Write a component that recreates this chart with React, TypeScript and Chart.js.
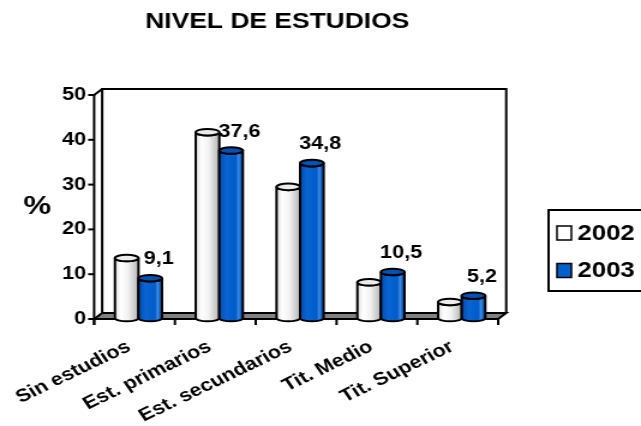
import React, { useEffect, useRef } from 'react';
import { Chart, registerables } from 'chart.js';

Chart.register(...registerables);

// ---- data ----
const TITLE = 'NIVEL DE ESTUDIOS';
const AXIS_LABEL = '%';
const categories = ['Sin estudios', 'Est. primarios', 'Est. secundarios', 'Tit. Medio', 'Tit. Superior'];
const seriesNames = ['2002', '2003'];
const values2002 = [13.6, 41.7, 29.5, 8.2, 3.8];
const values2003 = [9.1, 37.6, 34.8, 10.5, 5.2];
const yMin = 0;
const yMax = 50;
const yStep = 10;
const labelledSeries = [false, true];

// ---- layout (logical canvas, stretched horizontally to 641px) ----
const W = 534;
const H = 426;
const FONT = "'Liberation Sans', Arial, Helvetica, sans-serif";
const AREA_LEFT = 81.7;
const AREA_RIGHT = 418.3;
const AREA_TOP = 95;
const AREA_BOTTOM = 319;
const FRONT_SHIFT = 3.3;
const DEPTH_X = 6.7;
const DEPTH_Y = -6;

const styles = [
  {
    legend: '#ffffff',
    top: '#ececec',
    stops: [[0, '#dcdcdc'], [0.25, '#ffffff'], [0.55, '#f2f2f2'], [1, '#b4b4b4']] as [number, string][],
  },
  {
    legend: '#0060cc',
    top: '#0052b4',
    stops: [[0, '#004cae'], [0.3, '#0a64d2'], [0.7, '#005cc8'], [0.82, '#3f8ae2'], [0.9, '#1066cc'], [1, '#0048a4']] as [number, string][],
  },
];

function drawCylinder(ctx: CanvasRenderingContext2D, x: number, top: number, base: number, w: number, st: any) {
  const rx = w / 2;
  const ry = 3.3;
  const l = x - rx;
  const r = x + rx;
  const g = ctx.createLinearGradient(l, 0, r, 0);
  st.stops.forEach(([o, c]: [number, string]) => g.addColorStop(o, c));
  ctx.save();
  ctx.lineWidth = 2;
  ctx.strokeStyle = '#000';
  ctx.beginPath();
  ctx.moveTo(l, top);
  ctx.lineTo(l, base);
  ctx.ellipse(x, base, rx, ry, 0, Math.PI, 0, true);
  ctx.lineTo(r, top);
  ctx.ellipse(x, top, rx, ry, 0, 0, Math.PI, false);
  ctx.closePath();
  ctx.fillStyle = g;
  ctx.fill();
  ctx.stroke();
  ctx.beginPath();
  ctx.ellipse(x, top, rx, ry, 0, 0, Math.PI * 2);
  ctx.fillStyle = st.top;
  ctx.fill();
  ctx.stroke();
  ctx.restore();
}

const fmt = (v: number) => v.toFixed(1).replace('.', ',');

const chart3dPlugin = {
  id: 'chart3d',
  beforeDatasetsDraw(chart: any) {
    const ctx: CanvasRenderingContext2D = chart.ctx;
    const ca = chart.chartArea;
    const yScale = chart.scales.y;
    const fl = ca.left - FRONT_SHIFT;
    const fr = ca.right - FRONT_SHIFT;
    const ft = ca.top;
    const fb = ca.bottom;
    ctx.save();
    ctx.lineWidth = 2;
    ctx.strokeStyle = '#000';
    ctx.lineJoin = 'miter';
    // back wall
    ctx.fillStyle = '#ffffff';
    ctx.beginPath();
    ctx.rect(fl + DEPTH_X, ft + DEPTH_Y, fr - fl, fb - ft);
    ctx.fill();
    ctx.beginPath();
    ctx.moveTo(fl + DEPTH_X, fb + DEPTH_Y);
    ctx.lineTo(fl + DEPTH_X, ft + DEPTH_Y);
    ctx.lineTo(fr + DEPTH_X, ft + DEPTH_Y);
    ctx.lineTo(fr + DEPTH_X, fb + DEPTH_Y);
    ctx.stroke();
    // left side wall top edge
    ctx.beginPath();
    ctx.moveTo(fl, ft);
    ctx.lineTo(fl + DEPTH_X, ft + DEPTH_Y);
    ctx.stroke();
    // floor
    ctx.beginPath();
    ctx.moveTo(fl, fb);
    ctx.lineTo(fl + DEPTH_X, fb + DEPTH_Y);
    ctx.lineTo(fr + DEPTH_X, fb + DEPTH_Y);
    ctx.lineTo(fr, fb);
    ctx.closePath();
    ctx.fillStyle = '#808080';
    ctx.fill();
    ctx.stroke();
    // front y axis
    ctx.beginPath();
    ctx.moveTo(fl, ft);
    ctx.lineTo(fl, fb + 6);
    ctx.stroke();
    // y tick marks
    for (let v = yMin; v <= yMax; v += yStep) {
      const py = yScale.getPixelForValue(v);
      ctx.beginPath();
      ctx.moveTo(fl - 5, py);
      ctx.lineTo(fl, py);
      ctx.stroke();
    }
    // x tick marks
    const n = categories.length;
    for (let i = 0; i <= n; i++) {
      const px = fl + ((fr - fl) * i) / n;
      ctx.beginPath();
      ctx.moveTo(px, fb);
      ctx.lineTo(px, fb + 6);
      ctx.stroke();
    }
    ctx.restore();

    // cylinders
    for (let i = 0; i < categories.length; i++) {
      chart.data.datasets.forEach((ds: any, di: number) => {
        const meta = chart.getDatasetMeta(di);
        const el = meta.data[i];
        if (!el) return;
        const p = el.getProps(['x', 'y', 'base', 'width'], true);
        drawCylinder(ctx, p.x, p.y, p.base - 1, p.width, styles[di]);
      });
    }
    return false;
  },
  afterDraw(chart: any) {
    const ctx: CanvasRenderingContext2D = chart.ctx;
    ctx.save();
    ctx.fillStyle = '#000';
    ctx.textAlign = 'center';
    ctx.textBaseline = 'middle';
    // title
    ctx.font = `bold 22px ${FONT}`;
    ctx.fillText(TITLE, 231, 21.5);
    // axis label
    ctx.font = `bold 26px ${FONT}`;
    ctx.fillText(AXIS_LABEL, 31, 207);
    // data labels
    ctx.font = `bold 18px ${FONT}`;
    chart.data.datasets.forEach((ds: any, di: number) => {
      if (!labelledSeries[di]) return;
      const meta = chart.getDatasetMeta(di);
      meta.data.forEach((el: any, i: number) => {
        ctx.fillText(fmt(ds.data[i]), el.x + 7, el.y - 19);
      });
    });
    // legend
    ctx.lineWidth = 2;
    ctx.strokeStyle = '#000';
    ctx.strokeRect(457, 210, W + 10 - 457, 81);
    const ys = [233, 270.5];
    ctx.textAlign = 'left';
    ctx.font = `bold 21.5px ${FONT}`;
    seriesNames.forEach((name, i) => {
      ctx.fillStyle = styles[i].legend;
      ctx.fillRect(464, ys[i] - 7, 12, 14);
      ctx.lineWidth = 1.5;
      ctx.strokeRect(464, ys[i] - 7, 12, 14);
      ctx.fillStyle = '#000';
      ctx.fillText(name, 481, ys[i] + 1);
    });
    ctx.restore();
  },
};

export default function App() {
  const ref = useRef<HTMLCanvasElement | null>(null);
  useEffect(() => {
    if (!ref.current) return;
    const chart = new Chart(ref.current, {
      type: 'bar',
      data: {
        labels: categories,
        datasets: [
          { label: seriesNames[0], data: values2002, backgroundColor: styles[0].legend },
          { label: seriesNames[1], data: values2003, backgroundColor: styles[1].legend },
        ],
      },
      options: {
        animation: false,
        responsive: false,
        devicePixelRatio: 1,
        events: [],
        layout: { padding: { left: 0, top: AREA_TOP, right: W - AREA_RIGHT, bottom: 0 } },
        datasets: { bar: { categoryPercentage: 0.583, barPercentage: 1 } },
        plugins: { legend: { display: false }, title: { display: false }, tooltip: { enabled: false } },
        scales: {
          x: {
            grid: { display: false, drawTicks: false },
            border: { display: false },
            ticks: {
              autoSkip: false,
              minRotation: 30,
              maxRotation: 30,
              padding: 17,
              labelOffset: -8,
              color: '#000',
              font: { family: FONT, size: 18, weight: 'bold' },
            },
            afterFit: (s: any) => {
              s.height = H - AREA_BOTTOM;
              s.paddingLeft = 0;
              s.paddingRight = 0;
              s.paddingTop = 0;
              s.paddingBottom = 0;
            },
          },
          y: {
            min: yMin,
            max: yMax,
            grid: { display: false, drawTicks: false },
            border: { display: false },
            ticks: {
              stepSize: yStep,
              padding: 10,
              color: '#000',
              font: { family: FONT, size: 18, weight: 'bold' },
            },
            afterFit: (s: any) => {
              s.width = AREA_LEFT;
              s.paddingTop = 0;
              s.paddingBottom = 0;
              s.paddingLeft = 0;
              s.paddingRight = 0;
            },
          },
        },
      },
      plugins: [chart3dPlugin],
    } as any);
    return () => chart.destroy();
  }, []);
  return (
    <div style={{ position: 'absolute', left: 0, top: 0, width: 641, height: 426, background: '#fff' }}>
      <canvas ref={ref} width={W} height={H} style={{ width: '641px', height: '426px', display: 'block' }} />
    </div>
  );
}
